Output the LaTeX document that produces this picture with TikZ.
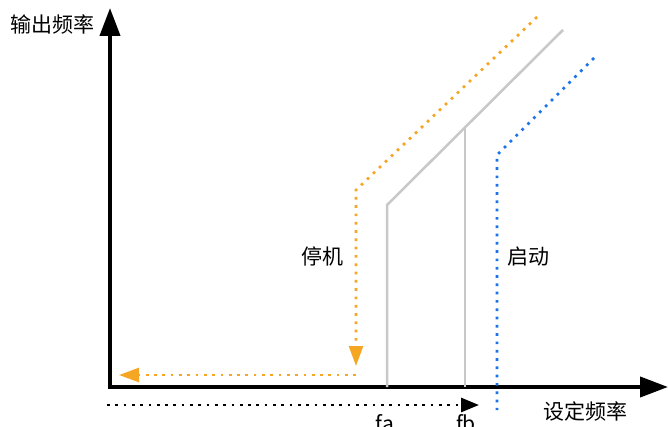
\documentclass[tikz,border=0pt]{standalone}
\usepackage{fontspec}
\setmainfont{Noto Sans CJK SC}
\usetikzlibrary{arrows.meta}
\definecolor{orng}{HTML}{F5A623}
\definecolor{blu}{HTML}{1A73E8}
\definecolor{gry}{HTML}{C8C8C8}
\begin{document}
\begin{tikzpicture}[x=1pt,y=-1pt,
  axis/.style={line width=4pt,-{Triangle[length=28pt,width=20pt]}},
  dotline/.style={line width=2.7pt,line cap=butt,dash pattern=on 2.7pt off 5.6pt},
  greyline/.style={gry,line width=2.5pt},
  lbl/.style={font=\fontsize{21}{21}\selectfont,inner sep=0pt}]
\useasboundingbox (0,0) rectangle (668,427);
% coordinates
\coordinate (O) at (110,387);
\coordinate (Ytop) at (110,8);
\coordinate (Xend) at (668,387);
\coordinate (A0) at (387,387);
\coordinate (A1) at (387,205);
\coordinate (B0) at (465,387);
\coordinate (B1) at (465,127);
\coordinate (G2) at (563,30);
\coordinate (S0) at (537,17);
\coordinate (S1) at (356,190);
\coordinate (S2) at (356,366);
\coordinate (H0) at (356,375);
\coordinate (H1) at (119,375);
\coordinate (R0) at (594,58);
\coordinate (R1) at (497,155);
\coordinate (R2) at (497,410);
\coordinate (K0) at (107,405);
\coordinate (K1) at (479,405);
% axes
\draw[axis] (O) -- (Ytop);
\draw[axis] ([xshift=-2pt]O) -- (Xend);
% grey lines
\draw[greyline,line join=miter] (A0) -- (A1) -- (G2);
\draw[greyline] (B0) -- (B1);
% orange
\draw[orng,dotline,-{Triangle[length=20pt,width=14pt]}] (S0) -- (S1) -- (S2);
\draw[orng,dotline,-{Triangle[length=20pt,width=14pt]}] (H0) -- (H1);
% blue
\draw[blu,dotline] (R0) -- (R1) -- (R2);
% black dotted
\draw[black,dotline,-{Triangle[length=18pt,width=14pt]}] (K0) -- (K1);
% labels
\node[lbl,anchor=base west] (ylab) at (10,33) {输出频率};
\node[lbl,anchor=base west] (xlab) at (543,419) {设定频率};
\node[lbl,anchor=base] (stop) at (322,265) {停机};
\node[lbl,anchor=base] (start) at (528,265) {启动};
\node[lbl,anchor=base] (fa) at (385,431) {fa};
\node[lbl,anchor=base] (fb) at (466,431) {fb};
\end{tikzpicture}
\end{document}
